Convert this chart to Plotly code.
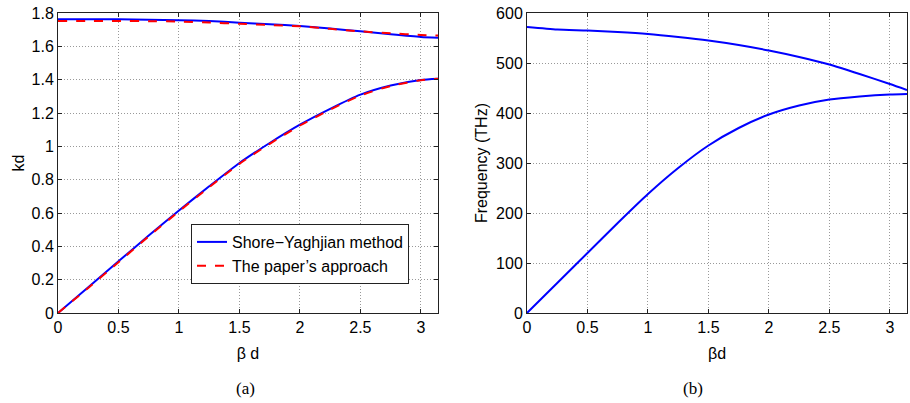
import plotly.graph_objects as go
import math

beta_d = [0, 0.25, 0.5, 0.75, 1.0, 1.25, 1.5, 1.75, 2.0, 2.25, 2.5, 2.75, 3.0, math.pi]

# (a) kd
sy_upper = [1.762, 1.762, 1.762, 1.760, 1.757, 1.752, 1.742, 1.733, 1.722, 1.707, 1.690, 1.672, 1.656, 1.652]
sy_lower = [0, 0.155, 0.31, 0.465, 0.615, 0.76, 0.90, 1.02, 1.13, 1.225, 1.31, 1.365, 1.398, 1.405]
pa_upper = [1.752, 1.752, 1.752, 1.751, 1.749, 1.743, 1.735, 1.728, 1.720, 1.705, 1.690, 1.678, 1.668, 1.665]
pa_lower = [0, 0.150, 0.305, 0.46, 0.61, 0.755, 0.895, 1.015, 1.125, 1.22, 1.305, 1.362, 1.397, 1.405]

# (b) frequency (THz)
f_upper = [572, 567, 565, 562, 558, 552, 545, 536, 525, 512, 497, 478, 458, 446]
f_lower = [0, 60, 120, 180, 238, 290, 335, 370, 397, 415, 427, 433, 437, 438]

kd_ticks = [0, 0.2, 0.4, 0.6, 0.8, 1, 1.2, 1.4, 1.6, 1.8]
kd_ticklabels = ["0", "0.2", "0.4", "0.6", "0.8", "1", "1.2", "1.4", "1.6", "1.8"]
f_ticks = [0, 100, 200, 300, 400, 500, 600]
x_ticks = [0, 0.5, 1, 1.5, 2, 2.5, 3]
x_ticklabels = ["0", "0.5", "1", "1.5", "2", "2.5", "3"]

BLUE = "#0000ff"
RED = "#ff0000"
FONT = "Liberation Sans, Arial, sans-serif"
SERIF = "Liberation Serif, Times New Roman, serif"
FS = 16

def solid(**kw):
    return dict(color=BLUE, width=2, shape="spline", smoothing=0.6, **kw)

def dashed(**kw):
    return dict(color=RED, width=2, dash="dash", shape="spline", smoothing=0.6, **kw)

fig = go.Figure()
fig.add_trace(go.Scatter(x=beta_d, y=sy_upper, mode="lines", line=solid(),
                         name="Shore\u2212Yaghjian method", xaxis="x", yaxis="y"))
fig.add_trace(go.Scatter(x=beta_d, y=pa_upper, mode="lines", line=dashed(),
                         name="The paper\u2019s approach", xaxis="x", yaxis="y"))
fig.add_trace(go.Scatter(x=beta_d, y=sy_lower, mode="lines", line=solid(),
                         showlegend=False, xaxis="x", yaxis="y"))
fig.add_trace(go.Scatter(x=beta_d, y=pa_lower, mode="lines", line=dashed(),
                         showlegend=False, xaxis="x", yaxis="y"))
fig.add_trace(go.Scatter(x=beta_d, y=f_upper, mode="lines", line=solid(),
                         showlegend=False, xaxis="x2", yaxis="y2"))
fig.add_trace(go.Scatter(x=beta_d, y=f_lower, mode="lines", line=solid(),
                         showlegend=False, xaxis="x2", yaxis="y2"))

axis_common = dict(showline=True, linecolor="#222", linewidth=1, mirror="ticks",
                   ticks="inside", ticklen=4, tickcolor="#222", automargin=False,
                   showgrid=True, gridcolor="#999999", griddash="1px,2px", gridwidth=1,
                   zeroline=False, tickfont=dict(family=FONT, size=FS, color="black"))

fig.update_layout(
    width=910, height=403,
    margin=dict(l=0, r=0, t=0, b=0),
    paper_bgcolor="white", plot_bgcolor="white",
    font=dict(family=FONT, size=FS, color="black"),
    xaxis=dict(domain=[58/910, 438/910], range=[0, math.pi], tickvals=x_ticks, ticktext=x_ticklabels,
               anchor="y", title=dict(text="\u03b2 d", font=dict(size=FS), standoff=12), **axis_common),
    yaxis=dict(domain=[1-313/403, 1-13/403], range=[0, 1.8], tickvals=kd_ticks, ticktext=kd_ticklabels,
               anchor="x", title=dict(text="kd", font=dict(size=FS), standoff=2), **axis_common),
    xaxis2=dict(domain=[527/910, 907/910], range=[0, math.pi], tickvals=x_ticks, ticktext=x_ticklabels,
                anchor="y2", title=dict(text="\u03b2d", font=dict(size=FS), standoff=12), **axis_common),
    yaxis2=dict(domain=[1-313/403, 1-13/403], range=[0, 600], tickvals=f_ticks,
                anchor="x2", title=dict(text="Frequency (THz)", font=dict(size=FS), standoff=4), **axis_common),
    legend=dict(x=191/910, y=1-224/403, xanchor="left", yanchor="top",
                bgcolor="white", bordercolor="#222", borderwidth=1,
                font=dict(family=FONT, size=FS, color="black"),
                tracegroupgap=0, itemwidth=30),
    showlegend=True,
    annotations=[
        dict(text="(a)", x=234/910, y=1-388/403, xref="paper", yref="paper", yanchor="middle",
             showarrow=False, font=dict(family=SERIF, size=17)),
        dict(text="(b)", x=705/910, y=1-388/403, xref="paper", yref="paper", yanchor="middle",
             showarrow=False, font=dict(family=SERIF, size=17)),
    ],
)

fig.write_html("out.html", config={"displayModeBar": False},
               post_script="document.body.style.margin='0';")
